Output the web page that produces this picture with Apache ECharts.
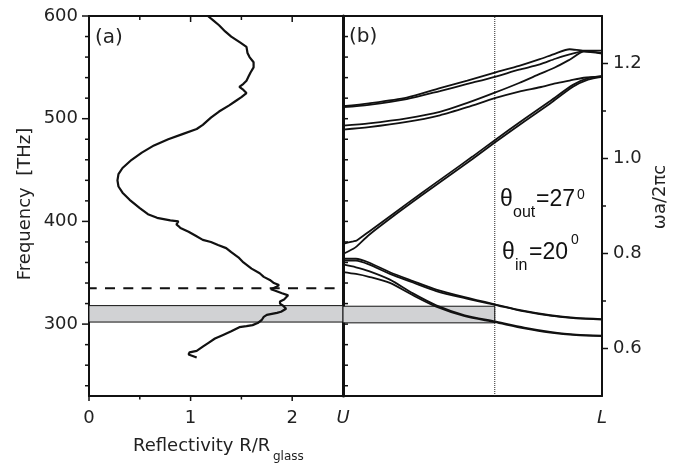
<!DOCTYPE html>
<html><head><meta charset="utf-8">
<script src="https://cdn.jsdelivr.net/npm/echarts@6/dist/echarts.min.js"></script>
<style>html,body{margin:0;padding:0;background:#fff}#c{width:681px;height:463px}</style>
</head><body><div id="c"></div>
<script>
// ---------------- data ----------------
// panel (a): measured reflectivity R/Rglass vs frequency (THz)
const reflR = [1.06,0.98,0.99,1.06,1.12,1.18,1.24,1.32,1.40,1.48,1.55,1.61,1.66,1.70,1.72,1.75,1.85,1.89,1.94,1.91,1.88,1.88,1.92,1.96,1.90,1.82,1.79,1.84,1.87,1.82,1.78,1.72,1.68,1.60,1.52,1.47,1.40,1.35,1.27,1.20,1.12,1.05,0.98,0.90,0.88,0.86,0.88,0.80,0.67,0.58,0.50,0.40,0.33,0.29,0.28,0.29,0.33,0.42,0.52,0.64,0.78,0.92,1.06,1.12,1.20,1.28,1.38,1.44,1.50,1.55,1.52,1.48,1.52,1.55,1.57,1.59,1.62,1.62,1.58,1.56,1.55,1.49,1.40,1.34,1.28,1.22,1.17];
const reflF = [267.5,270.5,272.5,274,278,282,286,289.5,293,297,298,299,301,304,307,309,311,312,315,318,320,322,324,328,330,333,334,336,338,340,343,346,349.5,354,360,365,370,374,377,380,382,386,390,393.5,395.5,397,400,401,403.5,407,413,421,428,434,440,446,452,460,467,474,480,485,490,494,501,507,513,517,521,525,528,531,534,537,541,545,550,555,560,564,570,574,580,585,591,596,600];
const dashedFreq = 335;          // THz
const bandTHz = [302, 318];      // grey band, THz
const bandNorm = [0.654, 0.689]; // grey band, wa/2pic
const dottedK = 0.586;           // dotted line position U->L

// panel (b): band structure U -> L
const tUp   = [0, 0.1, 0.246, 0.374, 0.48, 0.586, 0.68, 0.76, 0.82, 0.875, 0.93, 1];
const band1 = [1.110,1.116,1.128,1.148,1.164,1.181,1.195,1.209,1.221,1.230,1.227,1.227];
const band2 = [1.108,1.113,1.125,1.142,1.157,1.172,1.187,1.198,1.210,1.219,1.226,1.222];
const band3 = [1.069,1.074,1.0845,1.098,1.117,1.1386,1.159,1.178,1.192,1.208,1.225,1.221];
const band4 = [1.061,1.066,1.077,1.091,1.108,1.127,1.141,1.150,1.158,1.164,1.170,1.1724];
const tDiag = [0, 0.04, 0.053, 0.1, 0.2, 0.3, 0.4, 0.5, 0.586, 0.7, 0.8, 0.888, 0.946, 1];
const band5 = [0.8205,0.8255,0.8275,0.846,0.886,0.926,0.965,1.004,1.0386,1.083,1.121,1.155,1.169,1.174];
const band6 = [0.799,0.810,0.815,0.839,0.881,0.921,0.960,0.999,1.0336,1.078,1.116,1.151,1.166,1.172];
const tLow  = [0, 0.05, 0.1, 0.181, 0.27, 0.36, 0.47, 0.586, 0.7, 0.8, 0.9, 1];
const band7 = [0.789,0.789,0.781,0.7605,0.742,0.724,0.708,0.693,0.679,0.670,0.6645,0.662];
const band8 = [0.785,0.785,0.777,0.757,0.739,0.721,0.706,0.692,0.678,0.669,0.6635,0.661];
const band9 = [0.777,0.771,0.763,0.745,0.716,0.691,0.670,0.657,0.644,0.635,0.629,0.627];
const band10= [0.761,0.757,0.751,0.738,0.712,0.688,0.668,0.6555,0.6425,0.6335,0.628,0.626];

// axis ranges / ticks
const freqRange = [230, 600];
const reflRange = [0, 2.5];
const normRange = [0.5, 1.3];
const freqMajor = [300, 400, 500, 600];
const freqMinor = [240, 260, 280, 320, 340, 360, 380, 420, 440, 460, 480, 520, 540, 560, 580];
const freqMirror = [240,260,280,300,320,340,360,380,400,420,440,460,480,500,520,540,560,580];
const reflMajor = [1, 2];
const reflMinor = [0.5, 1.5];
const normMajor = [0.6, 0.8, 1.0, 1.2];
const normMinor = [0.7, 0.9, 1.1];

// ---------------- chart ----------------
const chart = echarts.init(document.getElementById('c'), null, {renderer: 'canvas'});
const INK = '#111';
const FONT = 'DejaVu Sans';
const zip = (a, b) => a.map((v, i) => [v, b[i]]);

function ticks(xi, yi, pts, dx, dy, w) {
  return {
    type: 'custom', xAxisIndex: xi, yAxisIndex: yi, silent: true, clip: false, z: 6,
    data: pts,
    renderItem: (params, api) => {
      const p = api.coord([api.value(0), api.value(1)]);
      return {type: 'line', shape: {x1: p[0], y1: p[1], x2: p[0] + dx, y2: p[1] + dy},
              style: {stroke: INK, lineWidth: w || 1.5}};
    }
  };
}
function bandLine(t, v) {
  return {type: 'line', xAxisIndex: 2, yAxisIndex: 2, data: zip(t, v), showSymbol: false,
          smooth: 0.25, lineStyle: {color: INK, width: 1.8}, z: 4, silent: true};
}
const axLine = w => ({show: true, onZero: false, lineStyle: {color: INK, width: w}});

const option = {
  animation: false,
  backgroundColor: '#fff',
  grid: [
    {left: 89, top: 16, width: 254, height: 380},
    {left: 343, top: 16, width: 259, height: 380}
  ],
  xAxis: [
    {gridIndex: 0, type: 'value', position: 'bottom', min: reflRange[0], max: reflRange[1], interval: 0.5,
     axisLine: axLine(2), axisTick: {show: false}, splitLine: {show: false},
     axisLabel: {margin: 13, fontFamily: FONT, fontSize: 18, color: '#222',
       formatter: v => (Math.abs(v - Math.round(v)) < 1e-6 && v < 2.4) ? String(Math.round(v)) : ''}},
    {gridIndex: 0, type: 'value', position: 'top', min: reflRange[0], max: reflRange[1],
     axisLine: axLine(2), axisTick: {show: false}, axisLabel: {show: false}, splitLine: {show: false}},
    {gridIndex: 1, type: 'value', position: 'bottom', min: 0, max: 1, interval: 1,
     axisLine: axLine(2), axisTick: {show: false}, splitLine: {show: false},
     axisLabel: {margin: 13, fontFamily: FONT, fontSize: 18, fontStyle: 'italic', color: '#222',
       formatter: v => v < 0.5 ? 'U' : 'L'}},
    {gridIndex: 1, type: 'value', position: 'top', min: 0, max: 1,
     axisLine: axLine(2), axisTick: {show: false}, axisLabel: {show: false}, splitLine: {show: false}}
  ],
  yAxis: [
    {gridIndex: 0, type: 'value', position: 'left', min: freqRange[0], max: freqRange[1], interval: 10,
     axisLine: axLine(2), axisTick: {show: false}, splitLine: {show: false},
     axisLabel: {margin: 11, fontFamily: FONT, fontSize: 18, color: '#222',
       formatter: v => (Math.round(v) % 100 === 0) ? String(Math.round(v)) : ''}},
    {gridIndex: 1, type: 'value', position: 'left', min: normRange[0], max: normRange[1],
     axisLine: axLine(3), axisTick: {show: false}, axisLabel: {show: false}, splitLine: {show: false}},
    {gridIndex: 1, type: 'value', position: 'right', min: normRange[0], max: normRange[1], interval: 0.1,
     axisLine: axLine(2), axisTick: {show: false}, splitLine: {show: false},
     axisLabel: {margin: 11, fontFamily: FONT, fontSize: 18, color: '#222',
       formatter: v => { const k = Math.round(v * 10); return (k % 2 === 0) ? (k / 10).toFixed(1) : ''; }}}
  ],
  series: [
    {type: 'line', xAxisIndex: 0, yAxisIndex: 0, data: zip(reflR, reflF), showSymbol: false,
     lineStyle: {color: INK, width: 2.2}, z: 4, silent: true,
     markArea: {silent: true, itemStyle: {color: '#d1d2d4', borderColor: INK, borderWidth: 1},
       data: [[{coord: [reflRange[0], bandTHz[0]]}, {coord: [reflRange[1], bandTHz[1]]}]]}},
    {type: 'line', xAxisIndex: 0, yAxisIndex: 0,
     data: [[reflRange[0], dashedFreq], [reflRange[1], dashedFreq]], showSymbol: false, silent: true,
     lineStyle: {color: INK, width: 2, type: [10, 8.3], dashOffset: 2.3}, z: 3},
    {type: 'line', xAxisIndex: 2, yAxisIndex: 2,
     data: [[dottedK, normRange[0]], [dottedK, normRange[1]]], showSymbol: false, silent: true,
     lineStyle: {color: '#222', width: 1, type: [1, 1]}, z: 3,
     markArea: {silent: true, itemStyle: {color: '#d1d2d4', borderColor: INK, borderWidth: 1},
       data: [[{coord: [0, bandNorm[0]]}, {coord: [dottedK, bandNorm[1]]}]]}},
    bandLine(tUp, band1), bandLine(tUp, band2), bandLine(tUp, band3), bandLine(tUp, band4),
    bandLine(tDiag, band5), bandLine(tDiag, band6),
    bandLine(tLow, band7), bandLine(tLow, band8), bandLine(tLow, band9), bandLine(tLow, band10),
    // ticks
    ticks(0, 0, freqMajor.map(f => [reflRange[0], f]), -7, 0),
    ticks(0, 0, freqMinor.map(f => [reflRange[0], f]), -4, 0),
    ticks(0, 0, freqMirror.map(f => [reflRange[1], f]), 5, 0),
    ticks(0, 0, reflMajor.map(r => [r, freqRange[1]]), 0, 6),
    ticks(0, 0, reflMinor.map(r => [r, freqRange[1]]), 0, 4),
    ticks(0, 0, [0].concat(reflMajor).map(r => [r, freqRange[0]]), 0, 5),
    ticks(0, 0, reflMinor.map(r => [r, freqRange[0]]), 0, 3.5),
    ticks(2, 2, normMajor.map(v => [1, v]), 6, 0),
    ticks(2, 2, normMinor.map(v => [1, v]), 4, 0)
  ],
  graphic: [
    {type: 'text', x: 95, y: 38, style: {text: '(a)', font: '20px "DejaVu Sans"', fill: '#222', textAlign: 'left', textVerticalAlign: 'middle', verticalAlign: 'middle'}},
    {type: 'text', x: 349, y: 37, style: {text: '(b)', font: '20px "DejaVu Sans"', fill: '#222', textAlign: 'left', textVerticalAlign: 'middle', verticalAlign: 'middle'}},
    {type: 'text', x: 25, y: 204, rotation: Math.PI / 2, style: {text: 'Frequency  [THz]', font: '18px "DejaVu Sans"', fill: '#222', textAlign: 'center', textVerticalAlign: 'middle', verticalAlign: 'middle'}},
    {type: 'text', x: 660, y: 197, rotation: Math.PI / 2, style: {text: 'ωa/2πc', font: '18px "DejaVu Sans"', fill: '#222', textAlign: 'center', textVerticalAlign: 'middle', verticalAlign: 'middle'}},
    {type: 'text', x: 133, y: 446, style: {text: 'Reflectivity R/R', font: '18px "DejaVu Sans"', fill: '#222', textAlign: 'left', textVerticalAlign: 'middle', verticalAlign: 'middle'}},
    {type: 'text', x: 273, y: 457, style: {text: 'glass', font: '12px "DejaVu Sans"', fill: '#222', textAlign: 'left', textVerticalAlign: 'middle', verticalAlign: 'middle'}},
    {type: 'text', x: 500, y: 200, style: {text: 'θ', font: '23px "Liberation Sans"', fill: '#111', textAlign: 'left', textVerticalAlign: 'middle', verticalAlign: 'middle'}},
    {type: 'text', x: 513, y: 213, style: {text: 'out', font: '16px "Liberation Sans"', fill: '#111', textAlign: 'left', textVerticalAlign: 'middle', verticalAlign: 'middle'}},
    {type: 'text', x: 536, y: 200, style: {text: '=27', font: '23px "Liberation Sans"', fill: '#111', textAlign: 'left', textVerticalAlign: 'middle', verticalAlign: 'middle'}},
    {type: 'text', x: 577, y: 195, style: {text: '0', font: '14px "Liberation Sans"', fill: '#111', textAlign: 'left', textVerticalAlign: 'middle', verticalAlign: 'middle'}},
    {type: 'text', x: 502, y: 253, style: {text: 'θ', font: '23px "Liberation Sans"', fill: '#111', textAlign: 'left', textVerticalAlign: 'middle', verticalAlign: 'middle'}},
    {type: 'text', x: 515, y: 266, style: {text: 'in', font: '16px "Liberation Sans"', fill: '#111', textAlign: 'left', textVerticalAlign: 'middle', verticalAlign: 'middle'}},
    {type: 'text', x: 529, y: 253, style: {text: '=20', font: '23px "Liberation Sans"', fill: '#111', textAlign: 'left', textVerticalAlign: 'middle', verticalAlign: 'middle'}},
    {type: 'text', x: 571, y: 240, style: {text: '0', font: '14px "Liberation Sans"', fill: '#111', textAlign: 'left', textVerticalAlign: 'middle', verticalAlign: 'middle'}}
  ]
};
chart.setOption(option);
</script>
</body></html>
